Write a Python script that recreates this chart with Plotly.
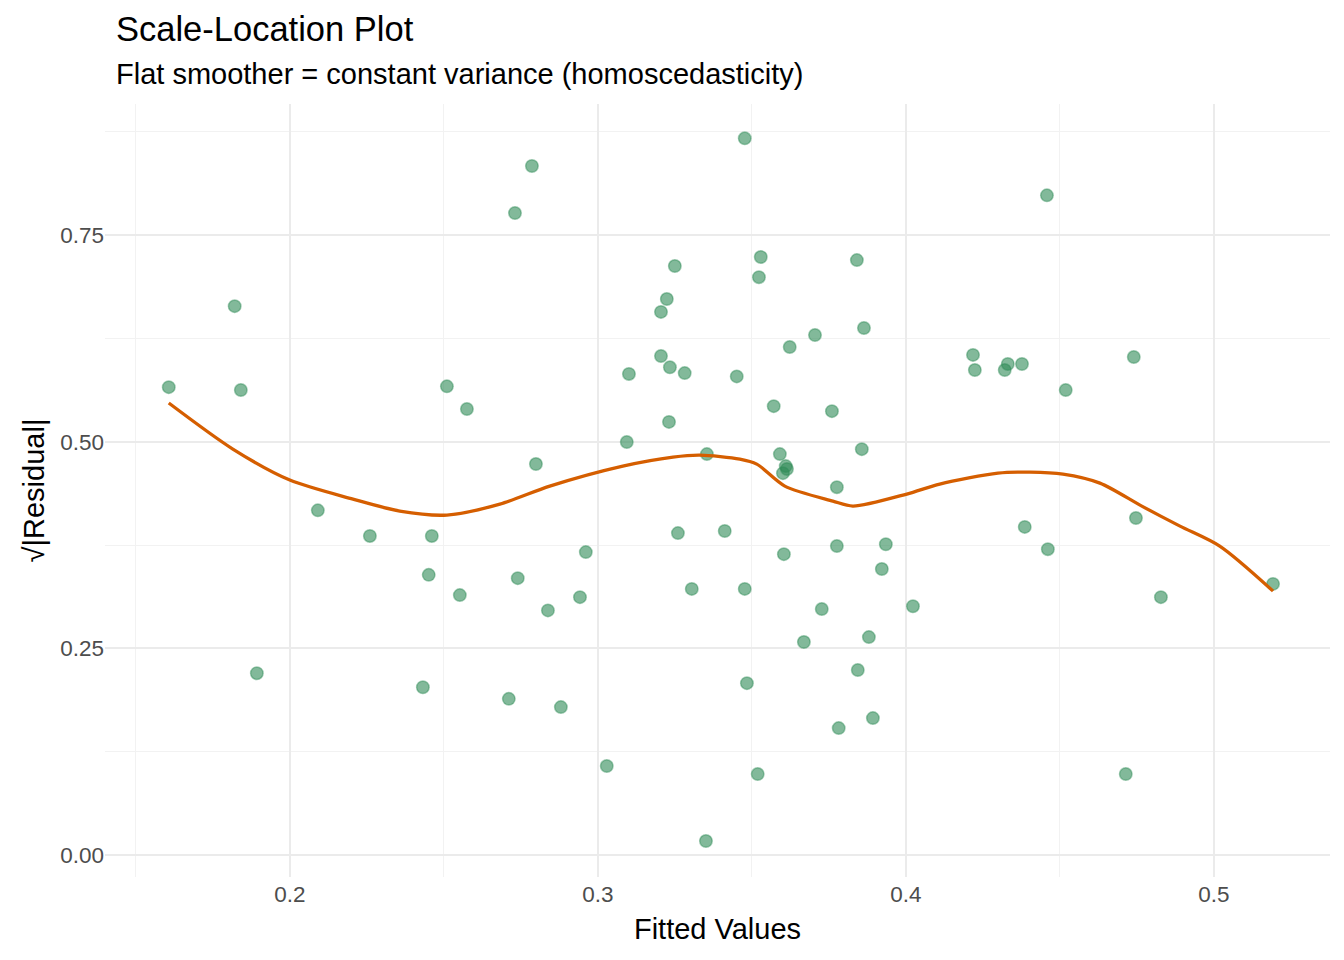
import plotly.graph_objects as go

fitted = [0.1607, 0.1821, 0.1841, 0.1893, 0.2091, 0.2260, 0.2432, 0.2451, 0.2461, 0.2510,
          0.2552, 0.2575, 0.2711, 0.2731, 0.2740, 0.2786, 0.2799, 0.2838, 0.2880, 0.2942,
          0.2961, 0.3029, 0.3094, 0.3101, 0.3205, 0.3205, 0.3224, 0.3231, 0.3234, 0.3250,
          0.3260, 0.3282, 0.3305, 0.3351, 0.3354, 0.3412, 0.3451, 0.3477, 0.3477, 0.3484,
          0.3519, 0.3523, 0.3529, 0.3571, 0.3591, 0.3601, 0.3604, 0.3610, 0.3614, 0.3623,
          0.3669, 0.3705, 0.3727, 0.3760, 0.3776, 0.3776, 0.3782, 0.3841, 0.3844, 0.3857,
          0.3864, 0.3880, 0.3893, 0.3922, 0.3935, 0.4023, 0.4218, 0.4224, 0.4321, 0.4331,
          0.4377, 0.4386, 0.4458, 0.4461, 0.4519, 0.4714, 0.4740, 0.4747, 0.4828, 0.5192]
sqrt_abs_resid = [0.566, 0.664, 0.5625, 0.220, 0.417, 0.386, 0.203, 0.339, 0.386, 0.567,
                  0.3145, 0.5395, 0.189, 0.7766, 0.335, 0.8335, 0.473, 0.296, 0.179, 0.312,
                  0.3665, 0.1077, 0.4996, 0.582, 0.657, 0.6036, 0.6726, 0.524, 0.590, 0.7125,
                  0.3895, 0.583, 0.322, 0.017, 0.485, 0.392, 0.579, 0.867, 0.322, 0.208,
                  0.098, 0.699, 0.7234, 0.543, 0.485, 0.462, 0.364, 0.4705, 0.467, 0.6145,
                  0.2577, 0.629, 0.2976, 0.537, 0.3738, 0.445, 0.1536, 0.7197, 0.2238, 0.491,
                  0.6375, 0.2637, 0.1657, 0.346, 0.376, 0.301, 0.605, 0.5867, 0.5867, 0.594,
                  0.594, 0.397, 0.798, 0.370, 0.5625, 0.098, 0.6024, 0.4077, 0.312, 0.328]

smooth_x = [0.1607, 0.1815, 0.2000, 0.2205, 0.2357, 0.2510, 0.2682, 0.2844, 0.3081, 0.3244,
            0.3331, 0.3461, 0.3516, 0.3607, 0.3763, 0.3828, 0.4003, 0.4110, 0.4299, 0.4403,
            0.4510, 0.4630, 0.4766, 0.4890, 0.5019, 0.5192]
smooth_y = [0.5468, 0.4911, 0.4536, 0.4306, 0.4161, 0.4113, 0.4245, 0.4463, 0.4705, 0.4814,
            0.4838, 0.4790, 0.4729, 0.4463, 0.4282, 0.4222, 0.4367, 0.4488, 0.4620, 0.4632,
            0.4608, 0.4499, 0.4221, 0.3979, 0.3737, 0.3193]

x_ticks = [0.2, 0.3, 0.4, 0.5]
x_tick_labels = ["0.2", "0.3", "0.4", "0.5"]
y_ticks = [0.0, 0.25, 0.5, 0.75]
y_tick_labels = ["0.00", "0.25", "0.50", "0.75"]

fig = go.Figure()
fig.add_trace(go.Scatter(
    x=fitted, y=sqrt_abs_resid, mode="markers",
    marker=dict(size=12.5, color="rgba(46,139,87,0.6)",
                line=dict(color="rgba(46,139,87,0.45)", width=1.5)),
    showlegend=False, hoverinfo="x+y"))
fig.add_trace(go.Scatter(
    x=smooth_x, y=smooth_y, mode="lines",
    line=dict(color="#D55E00", width=3.3, shape="spline", smoothing=0.8),
    showlegend=False))

font_family = "Liberation Sans, Arial, sans-serif"
fig.update_layout(
    width=1336, height=953,
    margin=dict(l=97, r=14, t=96, b=84),
    paper_bgcolor="white", plot_bgcolor="white",
    font=dict(family=font_family, color="black"),
    xaxis=dict(
        range=[0.1400, 0.5377],
        tickmode="array", tickvals=x_ticks, ticktext=x_tick_labels,
        tickfont=dict(size=22.5, color="#4d4d4d"), ticklabelstandoff=1,
        showgrid=True, gridcolor="#ebebeb", gridwidth=1.8,
        zeroline=False, showline=False, ticks="",
        minor=dict(tickmode="array", tickvals=[0.15, 0.25, 0.35, 0.45],
                   showgrid=True, gridcolor="#f2f2f2", gridwidth=1.0),
        title=dict(text="Fitted Values", font=dict(size=29), standoff=13),
    ),
    yaxis=dict(
        range=[-0.0265, 0.9085],
        tickmode="array", tickvals=y_ticks, ticktext=y_tick_labels,
        tickfont=dict(size=22.5, color="#4d4d4d"),
        showgrid=True, gridcolor="#ebebeb", gridwidth=1.8,
        zeroline=False, showline=False, ticks="",
        minor=dict(tickmode="array", tickvals=[0.125, 0.375, 0.625, 0.875],
                   showgrid=True, gridcolor="#f2f2f2", gridwidth=1.0),
        title=dict(text="√|Residual|", font=dict(size=29), standoff=7),
    ),
    annotations=[
        dict(text="Scale-Location Plot", xref="paper", yref="paper",
             x=0, y=1, xshift=9, yshift=75, xanchor="left", yanchor="middle",
             showarrow=False, font=dict(size=34.5, color="black")),
        dict(text="Flat smoother = constant variance (homoscedasticity)",
             xref="paper", yref="paper", x=0, y=1, xshift=9, yshift=30,
             xanchor="left", yanchor="middle", showarrow=False,
             font=dict(size=29, color="black")),
    ],
)

fig.write_html("out.html")
